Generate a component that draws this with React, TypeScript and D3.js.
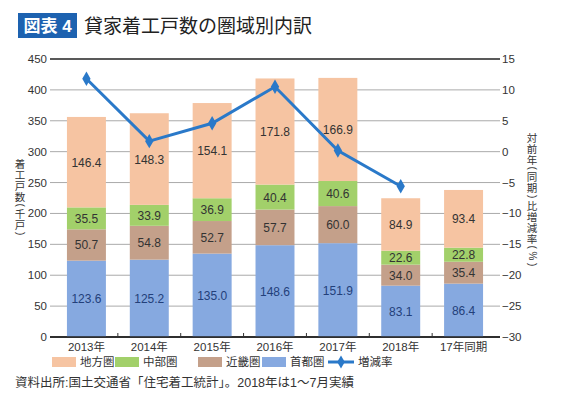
import * as d3 from "d3";
import { useEffect, useRef } from "react";

const categories = ["2013年", "2014年", "2015年", "2016年", "2017年", "2018年", "17年同期"];
const shutoken = [123.6, 125.2, 135.0, 148.6, 151.9, 83.1, 86.4];
const kinki = [50.7, 54.8, 52.7, 57.7, 60.0, 34.0, 35.4];
const chubu = [35.5, 33.9, 36.9, 40.4, 40.6, 22.6, 22.8];
const chiho = [146.4, 148.3, 154.1, 171.8, 166.9, 84.9, 93.4];
const rate = [11.8, 1.7, 4.6, 10.5, 0.2, -5.6];
const leftTicks = [0, 50, 100, 150, 200, 250, 300, 350, 400, 450];
const rightTicks = [-30, -25, -20, -15, -10, -5, 0, 5, 10, 15];

const seriesNames = ["首都圏", "近畿圏", "中部圏", "地方圏"];
const seriesData = [shutoken, kinki, chubu, chiho];
const colors = ["#86a9e0", "#c4a08a", "#a2d06a", "#f6c4a2"];
const legendOrder = [3, 2, 1, 0];

// vertical axis titles
const leftTitle = "着工戸数(千戸)";
const rightTitle = "対前年(同期)比増減率(%)";

const FONT = "'Liberation Sans', 'Noto Sans CJK JP', sans-serif";

// lay glyphs out top to bottom; brackets and % are turned sideways
function verticalText(
  svg: d3.Selection<SVGSVGElement | null, unknown, null, undefined>,
  text: string,
  cx: number,
  y0: number
) {
  const rotated = (c: string) => c === "(" || c === ")" || c === "%";
  let pos = y0;
  const cells = Array.from(text).map((c) => {
    const adv = c === "(" || c === ")" ? 6.5 : 11;
    const cell = { c, cy: pos + adv / 2 };
    pos += adv;
    return cell;
  });
  svg
    .append("g")
    .selectAll("text")
    .data(cells)
    .enter()
    .append("text")
    .attr("transform", (d) =>
      rotated(d.c) ? `translate(${cx},${d.cy}) rotate(90)` : `translate(${cx},${d.cy})`
    )
    .attr("text-anchor", "middle")
    .attr("dominant-baseline", "central")
    .attr("font-size", (d) => (rotated(d.c) ? 10 : 10.5))
    .attr("font-family", FONT)
    .attr("fill", "#333")
    .text((d) => d.c);
}

export default function App() {
  const ref = useRef<SVGSVGElement | null>(null);

  useEffect(() => {
    const svg = d3.select(ref.current);
    svg.selectAll("*").remove();

    const left = 55,
      right = 495,
      top = 59,
      bottom = 337;

    const x = d3
      .scaleBand()
      .domain(categories)
      .range([left, right])
      .paddingInner(0.38)
      .paddingOuter(0.19);
    const y = d3.scaleLinear().domain([0, 450]).range([bottom, top]);
    const yR = d3.scaleLinear().domain([-30, 15]).range([bottom, top]);

    // title
    svg
      .append("rect")
      .attr("x", 18)
      .attr("y", 13)
      .attr("width", 59)
      .attr("height", 25)
      .attr("fill", "#1d62b0");
    svg
      .append("text")
      .attr("x", 47.5)
      .attr("y", 32)
      .attr("text-anchor", "middle")
      .attr("fill", "#fff")
      .attr("font-size", 17)
      .attr("font-weight", "bold")
      .attr("font-family", FONT)
      .text("図表 4");
    svg
      .append("text")
      .attr("x", 84)
      .attr("y", 33)
      .attr("fill", "#222")
      .attr("font-size", 19)
      .attr("font-family", FONT)
      .text("貸家着工戸数の圏域別内訳");

    // gridlines
    svg
      .append("g")
      .selectAll("line")
      .data(leftTicks)
      .enter()
      .append("line")
      .attr("x1", left - 5)
      .attr("x2", right + 5)
      .attr("y1", (d) => y(d))
      .attr("y2", (d) => y(d))
      .attr("stroke", (d) => (d === 0 || d === 450 ? "#222" : "#aaa"))
      .attr("stroke-width", (d) => (d === 0 || d === 450 ? 1.5 : 1));

    // left tick labels
    svg
      .append("g")
      .selectAll("text")
      .data(leftTicks)
      .enter()
      .append("text")
      .attr("x", left - 8)
      .attr("y", (d) => y(d) + 4)
      .attr("text-anchor", "end")
      .attr("font-size", 11.5)
      .attr("font-family", FONT)
      .attr("fill", "#333")
      .text((d) => d);

    // right tick labels
    svg
      .append("g")
      .selectAll("text")
      .data(rightTicks)
      .enter()
      .append("text")
      .attr("x", right + 7)
      .attr("y", (d) => yR(d) + 4)
      .attr("text-anchor", "start")
      .attr("font-size", 11.5)
      .attr("font-family", FONT)
      .attr("fill", "#333")
      .text((d) => d3.format("d")(d));

    verticalText(svg, leftTitle, 20, 158);
    verticalText(svg, rightTitle, 532, 132);

    // stacked bars
    const rows = categories.map((c, i) => {
      const row: Record<string, number | string> = { cat: c };
      seriesNames.forEach((s, k) => (row[s] = seriesData[k][i]));
      return row;
    });
    const stack = d3.stack<Record<string, number | string>>().keys(seriesNames)(rows);

    const layers = svg
      .append("g")
      .selectAll("g")
      .data(stack)
      .enter()
      .append("g")
      .attr("fill", (_, k) => colors[k]);

    layers
      .selectAll("rect")
      .data((d) => d)
      .enter()
      .append("rect")
      .attr("x", (d) => x(d.data.cat as string) ?? 0)
      .attr("width", x.bandwidth())
      .attr("y", (d) => y(d[1]))
      .attr("height", (d) => y(d[0]) - y(d[1]));

    layers
      .selectAll("text")
      .data((d) => d)
      .enter()
      .append("text")
      .attr("x", (d) => (x(d.data.cat as string) ?? 0) + x.bandwidth() / 2)
      .attr("y", (d) => (y(d[0]) + y(d[1])) / 2 + 4.5)
      .attr("text-anchor", "middle")
      .attr("font-size", 12)
      .attr("font-family", FONT)
      .attr("fill", function () {
        const key = (d3.select(this.parentNode as Element).datum() as any).key;
        return key === "首都圏" ? "#23407a" : "#333";
      })
      .text((d) => (d[1] - d[0]).toFixed(1));

    // bottom axis line + boundary ticks
    svg
      .append("line")
      .attr("x1", left - 5)
      .attr("x2", right + 5)
      .attr("y1", bottom)
      .attr("y2", bottom)
      .attr("stroke", "#222")
      .attr("stroke-width", 1.5);
    const bounds = categories.slice(1).map((c) => (x(c) ?? 0) - (x.step() - x.bandwidth()) / 2);
    svg
      .append("g")
      .selectAll("line")
      .data(bounds)
      .enter()
      .append("line")
      .attr("x1", (d) => d)
      .attr("x2", (d) => d)
      .attr("y1", bottom - 4)
      .attr("y2", bottom)
      .attr("stroke", "#333");

    // x labels
    svg
      .append("g")
      .selectAll("text")
      .data(categories)
      .enter()
      .append("text")
      .attr("x", (d) => (x(d) ?? 0) + x.bandwidth() / 2)
      .attr("y", 351)
      .attr("text-anchor", "middle")
      .attr("font-size", 11.5)
      .attr("font-family", FONT)
      .attr("fill", "#333")
      .text((d) => d);

    // rate line
    const line = d3
      .line<number>()
      .x((_, i) => (x(categories[i]) ?? 0) + x.bandwidth() / 2)
      .y((d) => yR(d));
    svg
      .append("path")
      .datum(rate)
      .attr("d", line)
      .attr("fill", "none")
      .attr("stroke", "#2a79c9")
      .attr("stroke-width", 3);
    svg
      .append("g")
      .selectAll("path")
      .data(rate)
      .enter()
      .append("path")
      .attr("d", d3.symbol(d3.symbolDiamond, 60)())
      .attr(
        "transform",
        (d, i) => `translate(${(x(categories[i]) ?? 0) + x.bandwidth() / 2},${yR(d)})`
      )
      .attr("fill", "#2a79c9");

    // legend
    const legendX = [52, 115, 198, 262];
    legendOrder.forEach((k, j) => {
      svg
        .append("rect")
        .attr("x", legendX[j])
        .attr("y", 357)
        .attr("width", 24)
        .attr("height", 10)
        .attr("fill", colors[k]);
      svg
        .append("text")
        .attr("x", legendX[j] + 28)
        .attr("y", 366)
        .attr("font-size", 11.5)
        .attr("font-family", FONT)
        .attr("fill", "#333")
        .text(seriesNames[k]);
    });
    svg
      .append("line")
      .attr("x1", 328)
      .attr("x2", 354)
      .attr("y1", 362)
      .attr("y2", 362)
      .attr("stroke", "#2a79c9")
      .attr("stroke-width", 3);
    svg
      .append("path")
      .attr("d", d3.symbol(d3.symbolDiamond, 50)())
      .attr("transform", "translate(341,362)")
      .attr("fill", "#2a79c9");
    svg
      .append("text")
      .attr("x", 358)
      .attr("y", 366)
      .attr("font-size", 11.5)
      .attr("font-family", FONT)
      .attr("fill", "#333")
      .text("増減率");

    // source
    svg
      .append("text")
      .attr("x", 15)
      .attr("y", 387)
      .attr("font-size", 12.5)
      .attr("font-family", FONT)
      .attr("fill", "#333")
      .text("資料出所:国土交通省「住宅着工統計」。2018年は1～7月実績");
  }, []);

  return (
    <svg
      ref={ref}
      width={565}
      height={415}
      style={{ position: "absolute", left: 0, top: 0, background: "#fff" }}
    />
  );
}
